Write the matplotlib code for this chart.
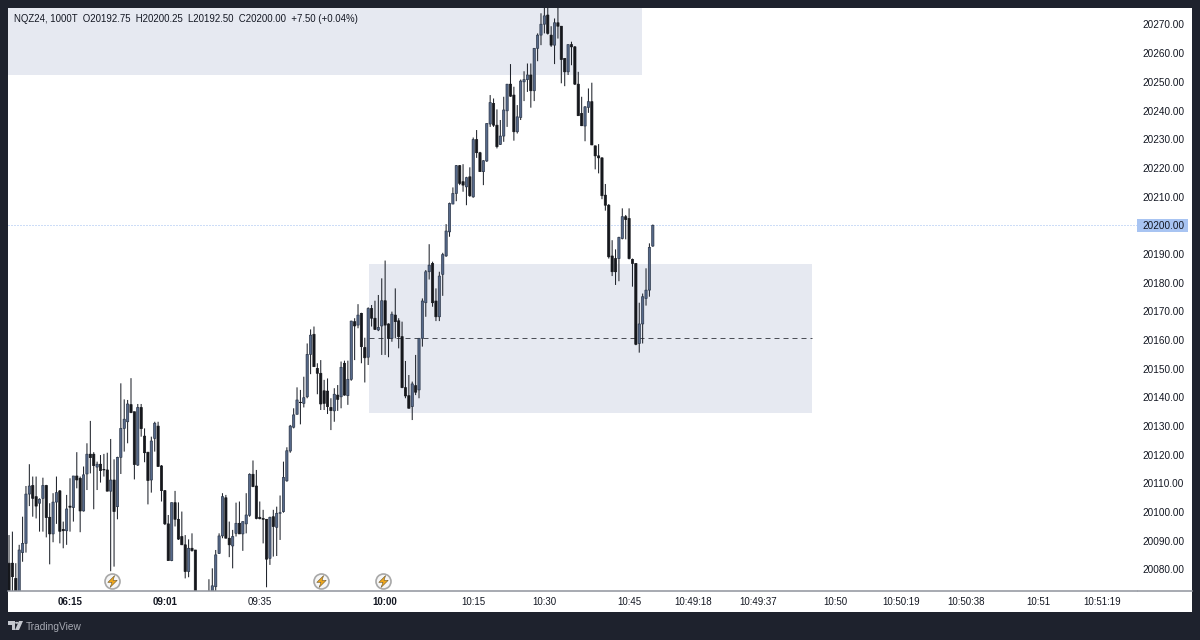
import matplotlib
matplotlib.use('Agg')
import matplotlib.pyplot as plt
import numpy as np
from matplotlib.patches import Rectangle, Circle, Polygon
from matplotlib.path import Path

plt.rcParams['font.family'] = ['Liberation Sans', 'DejaVu Sans']

# all prices as points above 20000
base_price = 20000
highs = [92.0,93.2,82.2,88.6,98.4,109.1,116.7,112.4,112.4,104.8,
	112.0,109.5,103.1,106.6,112.4,107.7,96.7,106.0,111.8,112.6,
	120.9,112.4,115.9,124.0,131.8,120.9,117.6,119.9,120.3,120.7,
	125.5,118.4,119.3,144.9,139.3,139.1,146.7,135.0,137.7,137.7,
	129.2,120.9,126.3,131.5,131.5,116.4,107.7,99.0,103.3,107.4,
	103.4,100.2,92.0,90.5,92.6,86.8,72.5,70.0,70.0,76.6,
	80.4,86.8,92.6,106.6,106.0,96.7,93.8,103.3,103.7,96.7,
	106.6,113.5,118.0,114.7,103.7,100.8,97.6,98.4,100.8,101.9,
	105.8,117.6,122.6,130.4,136.2,143.5,142.6,147.2,158.8,163.7,
	164.7,151.9,153.0,146.1,146.6,139.7,143.2,144.3,152.5,152.8,
	152.8,166.7,167.6,172.5,169.5,160.8,171.4,172.2,173.7,175.7,
	181.5,187.7,165.8,169.9,178.0,167.6,166.4,152.7,147.8,145.5,
	154.8,160.6,174.5,184.4,193.4,187.3,178.0,183.8,190.4,200.4,
	207.9,213.2,221.0,221.0,221.3,216.9,220.2,230.6,233.2,225.6,
	222.7,235.5,245.4,244.2,240.4,236.7,244.8,249.2,256.2,248.3,
	241.9,250.8,253.7,256.4,256.4,261.7,266.9,273.9,280.0,280.0,
	269.4,272.1,280.0,269.4,258.2,263.0,264.0,262.5,253.5,244.8,
	241.5,247.7,249.7,227.7,228.3,223.7,214.4,207.4,194.8,191.6,
	196.0,205.9,203.6,205.9,188.4,186.7,173.0,176.2,185.0,193.7,200.25]
lows = [70.0,70.0,70.0,70.0,82.7,85.9,102.1,98.4,97.8,93.2,
	93.2,91.2,81.8,89.5,95.9,89.1,87.4,88.6,93.2,96.7,
	108.3,93.0,100.2,107.7,113.5,101.0,107.7,110.3,112.4,107.3,
	79.4,81.0,97.5,113.3,121.1,124.0,134.5,111.4,116.1,126.3,
	117.4,102.7,106.8,121.1,115.9,103.7,95.5,83.1,82.9,95.0,
	90.3,88.6,76.9,77.3,86.2,68.0,64.0,60.0,60.0,66.0,
	68.0,70.0,85.4,90.9,90.9,84.3,80.4,91.5,92.4,86.5,
	92.6,98.4,108.7,97.5,97.5,89.1,73.8,81.6,84.5,84.7,
	90.3,99.8,110.6,120.7,129.2,134.1,130.6,136.5,139.7,148.1,
	150.7,141.1,135.6,135.6,134.2,128.6,131.5,135.3,136.2,140.6,
	137.4,145.8,153.0,164.1,151.9,145.2,151.3,164.7,163.5,163.1,
	154.8,154.8,154.0,159.4,160.6,157.1,143.2,139.7,136.2,132.1,
	140.8,139.7,157.7,168.1,181.1,171.6,166.6,166.6,175.4,189.0,
	196.0,207.4,208.4,214.0,211.7,207.0,209.9,209.6,223.5,218.7,
	214.0,222.1,234.3,234.3,226.8,228.0,229.1,234.3,244.8,229.5,
	232.0,236.7,243.3,246.5,241.0,243.3,257.2,262.8,266.9,266.5,
	262.2,256.2,265.1,249.5,248.5,252.4,255.8,248.9,238.2,234.6,
	229.3,239.2,228.0,219.5,218.1,209.1,205.1,188.4,182.3,179.2,
	180.5,195.1,195.1,188.1,178.6,158.2,155.6,158.8,172.0,175.1,192.5]
opens = [82.2,82.2,76.9,70.0,85.9,89.1,106.3,109.3,105.4,103.1,
	104.8,109.3,98.2,92.4,103.5,107.4,94.0,93.5,102.1,101.6,
	112.6,111.8,100.4,113.3,120.2,120.2,115.7,116.7,114.9,114.7,
	107.3,111.2,101.9,119.1,129.2,131.5,137.5,135.0,116.4,136.5,
	126.5,120.9,111.2,125.7,130.0,116.1,107.5,95.9,83.1,103.3,
	97.5,91.5,88.6,79.3,87.4,86.8,71.5,68.0,68.0,68.0,
	70.0,74.0,85.6,91.7,105.0,90.9,88.2,92.6,96.1,92.4,
	95.9,98.9,113.2,109.1,98.2,97.8,97.5,83.9,98.4,94.7,
	99.6,100.2,110.9,121.3,129.6,134.1,138.3,137.9,140.2,155.0,
	162.0,150.1,148.4,142.3,142.2,136.5,135.3,140.8,140.2,151.9,
	140.6,146.3,166.4,165.2,169.3,157.4,154.0,171.0,167.6,163.5,
	164.9,173.7,165.6,160.6,168.7,166.7,161.2,143.4,140.6,136.8,
	144.1,142.6,160.6,173.0,183.8,186.7,173.6,168.1,182.9,189.3,
	197.7,207.4,211.1,220.8,215.2,213.4,216.9,209.9,229.9,225.3,
	218.7,222.4,235.3,242.5,234.9,228.2,231.1,239.9,249.2,245.4,
	232.6,237.6,250.0,250.8,252.4,246.9,261.7,266.3,270.1,273.3,
	266.3,262.8,270.6,269.4,258.2,253.5,263.0,262.2,249.2,239.0,
	234.6,241.1,243.1,227.7,224.2,223.5,210.5,207.0,189.3,188.4,
	188.4,195.4,203.0,202.4,188.1,186.7,158.8,165.6,174.5,177.4,192.75]
closes = [70.0,77.5,70.0,86.8,89.1,106.3,109.1,104.8,102.1,104.5,
	109.3,98.1,92.4,103.5,106.8,93.3,93.5,101.1,101.7,112.6,
	111.2,100.4,113.0,120.2,119.0,116.2,116.7,114.5,114.7,107.3,
	111.2,100.2,119.1,129.2,132.4,137.7,134.7,116.6,136.5,129.1,
	120.7,111.0,124.8,131.0,115.9,107.5,95.9,83.1,103.3,97.5,
	90.6,88.6,79.3,87.4,86.6,70.0,66.0,62.0,62.0,71.0,
	74.3,85.1,91.7,105.4,90.9,88.6,91.5,96.1,92.4,96.7,
	99.0,113.2,108.9,97.8,97.7,97.5,83.6,98.2,95.0,99.6,
	99.8,112.1,121.4,130.0,133.9,139.1,138.2,139.9,155.0,161.7,
	150.7,148.4,137.7,137.9,136.8,135.4,141.1,139.3,150.5,140.8,
	146.3,166.6,164.9,168.7,157.7,153.8,171.0,167.6,163.7,164.4,
	173.7,165.2,160.6,169.0,166.4,161.2,143.4,140.5,136.2,144.7,
	141.8,160.6,173.6,183.8,186.1,173.0,168.1,182.3,189.8,198.0,
	207.6,211.1,220.8,214.6,214.0,216.6,210.3,229.9,225.3,218.7,
	222.5,235.5,242.8,234.9,227.4,231.1,240.2,249.2,245.0,232.6,
	237.8,250.3,250.8,252.4,246.9,261.7,266.3,270.1,273.0,266.9,
	262.8,270.6,269.4,257.8,253.5,263.0,262.2,249.2,238.2,234.7,
	241.3,243.1,228.0,224.2,223.5,210.3,207.0,189.0,183.8,183.8,
	195.8,203.0,202.0,188.4,186.7,158.5,165.6,175.1,177.4,192.3,200.0]

price_ticks = list(range(20080, 20280, 10))
last_price = 20200.0
top_zone = (-1, 186.8, 20252.4, 20280)
mid_zone = (106.3, 237, 20134.5, 20186.5)
mid_line = 20160.7

time_pos = [18, 46, 74, 111, 137, 158, 183, 202, 221, 244, 263.3, 282.5, 303.7, 322.6]
time_labels = ['06:15', '09:01', '09:35', '10:00', '10:15', '10:30', '10:45', '10:49:18',
	'10:49:37', '10:50', '10:50:19', '10:50:38', '10:51', '10:51:19']
bold_labels = ['06:15', '09:01', '10:00']
flash_pos = [30.3, 92.2, 110.4]

legend_text = 'NQZ24, 1000T  O20192.75  H20200.25  L20192.50  C20200.00  +7.50 (+0.04%)'

DARK = '#1e222d'
ZONE = '#e6e9f1'
BEAR = '#15171c'
BULL_FACE = '#56698a'
BULL_EDGE = '#2c3749'
WICK = '#1f232b'
TEXT = '#131722'
W, H = 1200, 640


def fx(px):
	return px / W


def fy(py):
	return 1 - py / H


fig = plt.figure(figsize=(12, 6.4), dpi=100, facecolor=DARK)

# white panel behind chart, both scales included
fig.add_artist(Rectangle((fx(8), fy(612)), fx(1184), 604 / H, transform=fig.transFigure, facecolor='white', edgecolor='none', zorder=0))

ax = fig.add_axes([fx(8), fy(591), 1129 / W, 583 / H])
ax.patch.set_alpha(0)
for s in ax.spines.values():
	s.set_visible(False)
ax.set_xlim(-0.3, 332.9)
ax.set_ylim(20072.5, 20275.75)

o = base_price + np.array(opens)
h = base_price + np.array(highs)
l = base_price + np.array(lows)
c = base_price + np.array(closes)
x = np.arange(len(o))
up = c >= o

for zone in (top_zone, mid_zone):
	ax.add_patch(Rectangle((zone[0], zone[2]), zone[1] - zone[0], zone[3] - zone[2], facecolor=ZONE, edgecolor='none', zorder=1))
ax.plot([mid_zone[0], mid_zone[1]], [mid_line, mid_line], color='#4c4f57', lw=0.72, linestyle=(0, (5, 4)), zorder=2)
ax.axhline(last_price, color='#9dbcf0', lw=0.72, linestyle=(0, (1, 2)), zorder=2)

# no pixel snapping, thin wicks blend to grey like the screenshot
wicks = ax.vlines(x, l, h, color=WICK, lw=0.75, zorder=3)
wicks.set_snap(False)
for bar in ax.bar(x[up], (c - o)[up], bottom=o[up], width=0.66, color=BULL_FACE, edgecolor=BULL_EDGE, linewidth=0.5, zorder=4):
	bar.set_snap(False)
for bar in ax.bar(x[~up], (o - c)[~up], bottom=c[~up], width=0.66, color=BEAR, edgecolor=BEAR, linewidth=0.5, zorder=4):
	bar.set_snap(False)

# price scale
ax.yaxis.tick_right()
ax.set_yticks(price_ticks)
ax.set_yticklabels(['%.2f' % p for p in price_ticks], fontsize=7.2, color=TEXT)
ax.tick_params(axis='y', length=0, pad=4)
# time scale
ax.set_xticks(time_pos)
ax.set_xticklabels(time_labels, fontsize=7.0, color=TEXT)
for lab in ax.get_xticklabels():
	if lab.get_text() in bold_labels:
		lab.set_fontweight('bold')
ax.tick_params(axis='x', length=0, pad=4.4)

# last price tag on the scale
ytrans = ax.get_yaxis_transform()
ax.add_patch(Rectangle((1, last_price - 2.27), 51 / 1129, 4.53, transform=ytrans, facecolor='#a8c4f2', edgecolor='none', clip_on=False, zorder=6))
ax.text(1 + 5.6 / 1129, last_price, '%.2f' % last_price, transform=ytrans, fontsize=7.2, color=TEXT, va='center_baseline', ha='left', zorder=7)

# axis line under the candles, runs on under the price scale
fig.add_artist(plt.Line2D([fx(8), fx(1137)], [fy(591), fy(591)], color='#8f939c', lw=1.1, transform=fig.transFigure))
fig.add_artist(plt.Line2D([fx(1138), fx(1192)], [fy(591), fy(591)], color='#8f939c', lw=1.1, transform=fig.transFigure))

# flash markers on the time axis
bolt = Path([(0.35, 1), (-0.8, -0.15), (-0.1, -0.15), (-0.4, -1), (0.8, 0.2), (0.1, 0.2), (0.35, 1)], closed=True)
xtrans = ax.get_xaxis_transform()
for p in flash_pos:
	ax.plot([p], [0.0172], transform=xtrans, marker='o', ms=10.8, mfc='#f6f6f6', mec='#a8a8a8', mew=1.2, clip_on=False, zorder=8)
	ax.plot([p], [0.0172], transform=xtrans, marker=bolt, ms=8.5, mfc='#eea61c', mec='#5a4a28', mew=0.35, clip_on=False, zorder=9)

fig.text(fx(14), fy(19), legend_text, fontsize=6.9, color=TEXT, va='center', ha='left')

# footer logo and name
logo = '#c4c7ce'
fig.add_artist(Polygon([(fx(8), fy(621)), (fx(15), fy(621)), (fx(15), fy(630)), (fx(12), fy(630)), (fx(12), fy(624.5)), (fx(8), fy(624.5))], transform=fig.transFigure, facecolor=logo, edgecolor='none'))
fig.add_artist(Circle((fx(16.8), fy(622.8)), 1.8 / W, transform=fig.transFigure, facecolor=logo, edgecolor='none'))
fig.add_artist(Polygon([(fx(19), fy(621)), (fx(23), fy(621)), (fx(19), fy(630)), (fx(15), fy(630))], transform=fig.transFigure, facecolor=logo, edgecolor='none'))
fig.text(fx(26), fy(626.5), 'TradingView', fontsize=7.3, color='#a6a9b2', va='center', ha='left')

fig.savefig('out.png', dpi=100, facecolor=DARK)
